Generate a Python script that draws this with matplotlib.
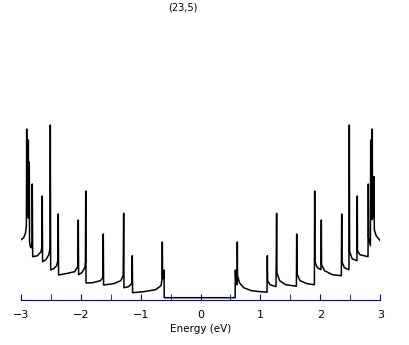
import matplotlib
matplotlib.use("Agg")
import matplotlib.pyplot as plt
from matplotlib.ticker import MultipleLocator

# density of states for the (23,5) tube
energy = [-3.0, -2.95, -2.92, -2.905, -2.90, -2.895, -2.876, -2.873, -2.868, -2.86,
          -2.857, -2.852, -2.84, -2.82, -2.81, -2.807, -2.80, -2.72, -2.66, -2.645,
          -2.64, -2.635, -2.58, -2.53, -2.51, -2.506, -2.50, -2.45, -2.40, -2.378,
          -2.373, -2.368, -2.25, -2.10, -2.05, -2.044, -2.039, -2.034, -1.98, -1.93,
          -1.92, -1.915, -1.91, -1.80, -1.67, -1.63, -1.622, -1.617, -1.45, -1.33,
          -1.29, -1.282, -1.277, -1.20, -1.15, -1.143, -1.138, -1.133, -0.95, -0.75,
          -0.66, -0.642, -0.637, -0.632, -0.612, -0.609, -0.605,
          0.578, 0.581, 0.590, 0.612, 0.614, 0.618, 0.65, 0.72, 0.85,
          1.0, 1.11, 1.115, 1.12, 1.16, 1.26, 1.27, 1.275, 1.32, 1.42,
          1.60, 1.605, 1.61, 1.66, 1.78, 1.90, 1.905, 1.91, 1.95, 2.01,
          2.016, 2.02, 2.07, 2.20, 2.35, 2.356, 2.36, 2.40, 2.477, 2.483,
          2.488, 2.53, 2.61, 2.616, 2.62, 2.66, 2.795, 2.80, 2.805, 2.835,
          2.84, 2.845, 2.862, 2.866, 2.87, 2.89, 2.895, 2.90, 2.93, 3.0]
dos = [0.577, 0.60, 0.647, 0.72, 1.687, 0.82, 0.80, 1.577, 0.80, 0.80,
       1.357, 0.56, 0.51, 0.50, 0.56, 1.137, 0.41, 0.42, 0.46, 0.52,
       1.017, 0.36, 0.38, 0.43, 0.50, 1.727, 0.277, 0.29, 0.32, 0.38,
       0.837, 0.227, 0.24, 0.26, 0.31, 0.36, 0.777, 0.23, 0.25, 0.30,
       0.36, 1.067, 0.147, 0.15, 0.17, 0.20, 0.637, 0.127, 0.14, 0.17,
       0.22, 0.844, 0.10, 0.11, 0.14, 0.18, 0.42, 0.05, 0.06, 0.08,
       0.12, 0.18, 0.557, 0.19, 0.20, 0.277, 0.0,
       0.0, 0.277, 0.16, 0.13, 0.557, 0.22, 0.15, 0.10, 0.07,
       0.06, 0.055, 0.42, 0.17, 0.13, 0.11, 0.844, 0.25, 0.17, 0.13,
       0.115, 0.637, 0.24, 0.17, 0.14, 0.13, 1.067, 0.36, 0.30, 0.28,
       0.777, 0.33, 0.27, 0.23, 0.22, 0.837, 0.36, 0.30, 0.28, 1.727,
       0.46, 0.39, 0.37, 1.017, 0.47, 0.43, 0.41, 1.137, 0.60, 0.52,
       1.577, 0.85, 0.78, 1.687, 0.90, 0.80, 1.21, 0.68, 0.62, 0.57]

title = "(23,5)"
xticks = [-3, -2, -1, 0, 1, 2, 3]

fig = plt.figure(figsize=(4.09, 3.45), dpi=100)
ax = fig.add_axes([20.7 / 409, 45 / 345, 359.6 / 409, 280 / 345])

ax.plot(energy, dos, color="black", lw=1.1)

ax.set_xlim(-3, 3)
ax.set_ylim(-0.023, 2.777)
ax.set_xticks(xticks)
ax.xaxis.set_minor_locator(MultipleLocator(0.5))
ax.set_yticks([])
for s in ["left", "right", "top"]:
    ax.spines[s].set_visible(False)
ax.spines["bottom"].set_color("#0000cc")
ax.tick_params(axis="x", which="both", direction="in", length=4,
               color="#0000cc", labelsize=8, pad=7)
ax.set_xlabel("Energy (eV)", fontsize=7.5, labelpad=3)

fig.text(183 / 409, 1 - 7 / 345, title, ha="center", va="center", fontsize=7)

fig.savefig("out.png", dpi=100)
